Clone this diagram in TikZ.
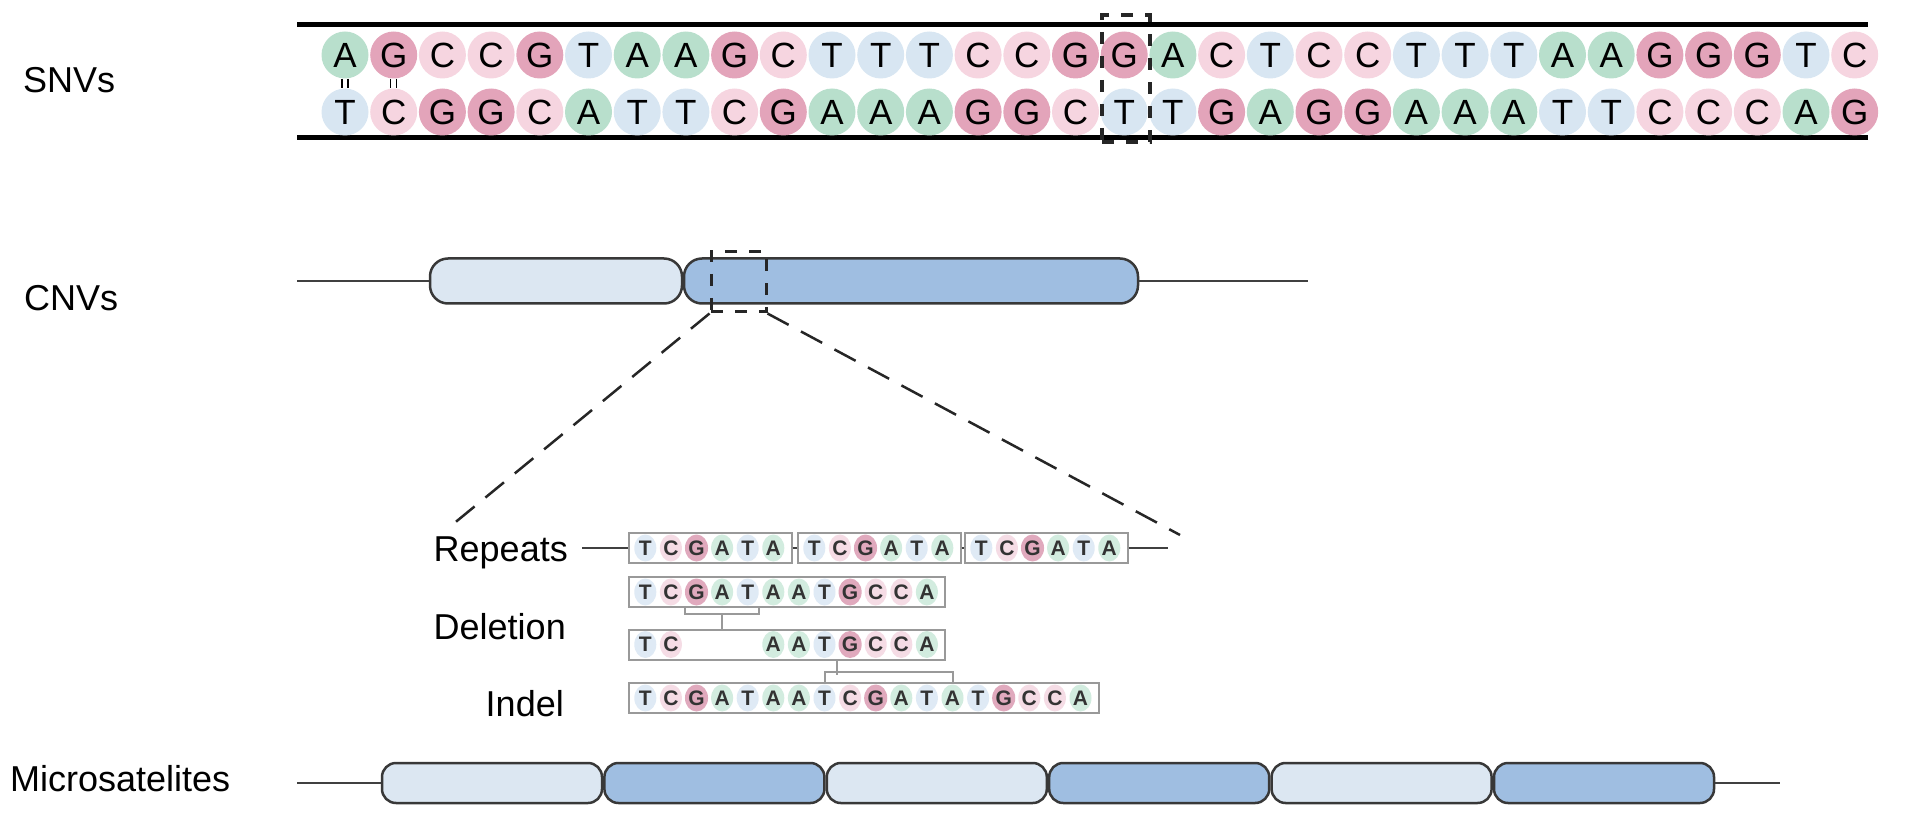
\documentclass[tikz,border=0pt]{standalone}
\usepackage{fontspec}
\setmainfont{Liberation Sans}
\usetikzlibrary{positioning,calc,shapes.geometric}

\definecolor{snA}{HTML}{B8DFCC}
\definecolor{snG}{HTML}{E3A4BA}
\definecolor{snC}{HTML}{F6D5E0}
\definecolor{snT}{HTML}{D8E6F2}
\definecolor{sqA}{HTML}{D2ECDF}
\definecolor{sqG}{HTML}{E0A9BD}
\definecolor{sqC}{HTML}{F5DCE5}
\definecolor{sqT}{HTML}{DFEAF5}
\definecolor{capLt}{HTML}{DCE7F2}
\definecolor{capDk}{HTML}{9FBEE1}
\definecolor{capline}{HTML}{383838}

\tikzset{
  lbl/.style={inner sep=0pt, font=\fontsize{36}{43}\selectfont},
  nt/.style={circle, fill=sn#1, minimum size=47pt, inner sep=0pt,
    font=\fontsize{35}{35}\selectfont},
  sq/.style={ellipse, fill=sq#1, minimum width=22pt, minimum height=27pt,
    inner sep=0pt, text=black!80, font=\fontsize{21}{21}\selectfont\bfseries},
  seqframe/.style={draw=gray!80, line width=2pt, fill=white,
    minimum height=30pt, inner sep=0pt},
  capsule/.style={draw=capline, line width=2.5pt, rounded corners=18pt,
    minimum height=45pt, inner sep=0pt},
  zoombox/.style={draw=black!85, line width=3pt, dash pattern=on 12pt off 12pt},
  zoomline/.style={draw=black!85, line width=2.5pt, dash pattern=on 24pt off 14pt},
  brk/.style={draw=gray!80, line width=2pt},
  strand/.style={line width=5pt},
  backbone/.style={draw=black!75, line width=2.5pt}
}

\begin{document}
\begin{tikzpicture}[x=1pt,y=-1pt]
  \useasboundingbox (0,0) rectangle (1914,818);
  \def\sp{48.7}
  \def\seqbox(#1,#2)#3#4{
    \node[seqframe, minimum width={#4*25.6+9}, anchor=west] (#3) at (#1,#2) {};
  }
  \def\seqtext(#1,#2)#3#4{
    \foreach \b [count=\i] in {#4} {
      \node[sq=\b] (#3\i) at ({#1+25.6*(\i-1)},#2) {\b};
    }
  }

  % SNVs
  \node[lbl, anchor=base west] (snvs) at (23,93) {SNVs};
  \draw[strand] (297,25) -- (1868,25);
  \draw[strand] (297,138) -- (1868,138);
  \foreach \b [count=\i] in {A,G,C,C,G,T,A,A,G,C,T,T,T,C,C,G,G,A,C,T,C,C,T,T,T,A,A,G,G,G,T,C} {
    \node[nt=\b] (t\i) at ({345+\sp*(\i-1)},55) {\b};
  }
  \foreach \b [count=\i] in {T,C,G,G,C,A,T,T,C,G,A,A,A,G,G,C,T,T,G,A,G,G,A,A,A,T,T,C,C,C,A,G} {
    \node[nt=\b] (b\i) at ({345+\sp*(\i-1)},112) {\b};
  }
  \foreach \i in {1,2}
    \foreach \d in {-3,3}
      \draw[line width=1.5pt] ([xshift=\d pt]t\i.south) -- ([xshift=\d pt]b\i.north);
  \node[zoombox, line width=3.5pt, minimum width=48pt, minimum height=127pt] (snvbox) at (1126,78.5) {};

  % CNVs
  \node[lbl, anchor=base west] (cnvs) at (24,310) {CNVs};
  \coordinate (c0) at (297,281);
  \coordinate (c1) at (1308,281);
  \node[capsule, fill=capLt, minimum width=252pt] (cnvA) at (556,281) {};
  \node[capsule, fill=capDk, minimum width=454pt] (cnvB) at (911,281) {};
  \draw[backbone] (c0) -- (cnvA);
  \draw[backbone] (cnvB) -- (c1);
  \node[zoombox, minimum width=55pt, minimum height=60pt] (cnvbox) at (738.5,282) {};
  \coordinate (zl) at (452,525);
  \coordinate (zr) at (1180,535);
  \draw[zoomline] (cnvbox.south west) -- (zl);
  \draw[zoomline] (cnvbox.south east) -- (zr);

  % repeats
  \node[lbl, anchor=base east] (rep) at (568,561) {Repeats};
  \coordinate (r0) at (582,548);
  \coordinate (r1) at (1168,548);
  \seqbox(628,548){rep1}{6}
  \seqbox(797,548){rep2}{6}
  \seqbox(964,548){rep3}{6}
  \draw[backbone] (r0) -- (rep1);
  \draw[backbone] (rep1) -- (rep2);
  \draw[backbone] (rep2) -- (rep3);
  \draw[backbone] (rep3) -- (r1);
  \seqtext(645.3,548){ra}{T,C,G,A,T,A}
  \seqtext(814.3,548){rb}{T,C,G,A,T,A}
  \seqtext(981.3,548){rc}{T,C,G,A,T,A}

  % deletion
  \node[lbl, anchor=base east] (del) at (566,639) {Deletion};
  \seqbox(628,592){dt}{12}
  \seqtext(645.3,592){d}{T,C,G,A,T,A,A,T,G,C,C,A}
  \seqbox(628,644.5){mid}{12}
  \seqtext(645.3,644.5){m}{T,C}
  \seqtext(773.3,644.5){n}{A,A,T,G,C,C,A}
  \draw[brk] (d3.west |- dt.south) -- ++(0,6) -| (d5.east |- dt.south);
  \coordinate (k1) at ($(d3.west)!.5!(d5.east)$);
  \draw[brk] (k1 |- dt.south) ++(0,6) -- (k1 |- mid.north);

  % indel
  \node[lbl, anchor=base east] (indl) at (564,716) {Indel};
  \seqbox(628,698){ind}{18}
  \seqtext(645.3,698){i}{T,C,G,A,T,A,A,T,C,G,A,T,A,T,G,C,C,A}
  \coordinate (k2) at ($(n3)!.5!(n4)$);
  \draw[brk] (k2 |- mid.south) -- ++(0,14);
  \draw[brk] (i8 |- ind.north) -- ++(0,-10) -| (i13 |- ind.north);

  % microsatelites
  \node[lbl, anchor=base west] (msl) at (10,791) {Microsatelites};
  \coordinate (s0) at (297,783);
  \coordinate (s1) at (1780,783);
  \foreach \c [count=\i] in {Lt,Dk,Lt,Dk,Lt,Dk} {
    \node[capsule, fill=cap\c, rounded corners=14pt, minimum width=220pt,
      minimum height=40pt] (ms\i) at ({492+222.4*(\i-1)},783) {};
  }
  \draw[backbone] (s0) -- (ms1);
  \draw[backbone] (ms6) -- (s1);
\end{tikzpicture}
\end{document}
